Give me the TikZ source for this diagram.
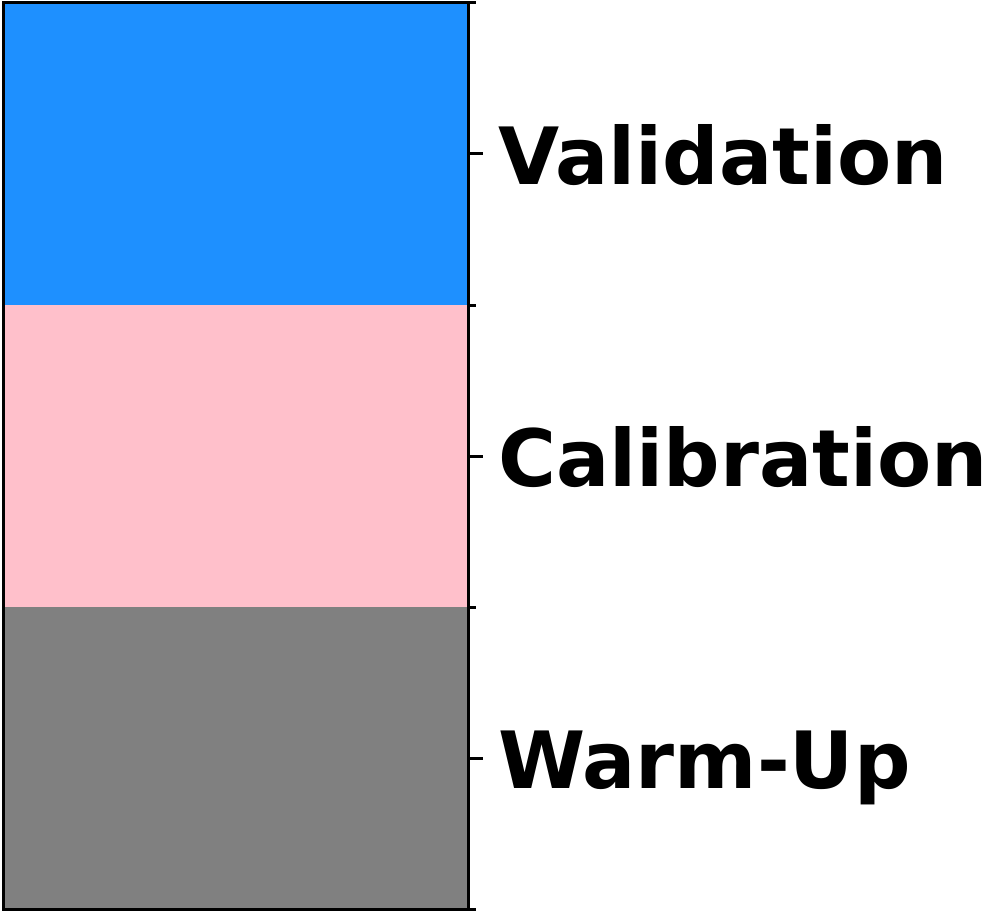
\documentclass[tikz,border=0pt]{standalone}
\usepackage{fontspec}
\newfontfamily\barfont[Scale=1]{DejaVu Sans}
\definecolor{valblue}{RGB}{30,144,255}
\definecolor{calpink}{RGB}{255,192,203}
\definecolor{warmgray}{RGB}{128,128,128}
\begin{document}
\begin{tikzpicture}[x=1pt, y=-1pt,
    seglabel/.style={anchor=base west, inner sep=0pt, font=\barfont\bfseries\fontsize{79}{81}\selectfont},
    tickline/.style={line width=3pt}]

    % --- bounding box (image size) ---
    \useasboundingbox (0,0) rectangle (990,912);

    % --- colour segments ---
    \fill[valblue]  (3,3)   rectangle (468,305);
    \fill[calpink]  (3,305) rectangle (468,607);
    \fill[warmgray] (3,607) rectangle (468,909);

    % --- frame ---
    \draw[line width=3pt] (3,3) rectangle (468,909);

    % --- minor ticks (segment borders) ---
    \foreach \y in {3,305,607,909}
      \draw[tickline] (468,\y) -- (476,\y);

    % --- major ticks and labels ---
    \foreach \y/\name/\txt in {154/val/Validation, 456/cal/Calibration, 758/warm/Warm-Up} {
      \draw[tickline] (468,\y) -- (483,\y);
      \node[seglabel] (\name) at (498,\y+30.5) {\txt};
    }

  \end{tikzpicture}
\end{document}
